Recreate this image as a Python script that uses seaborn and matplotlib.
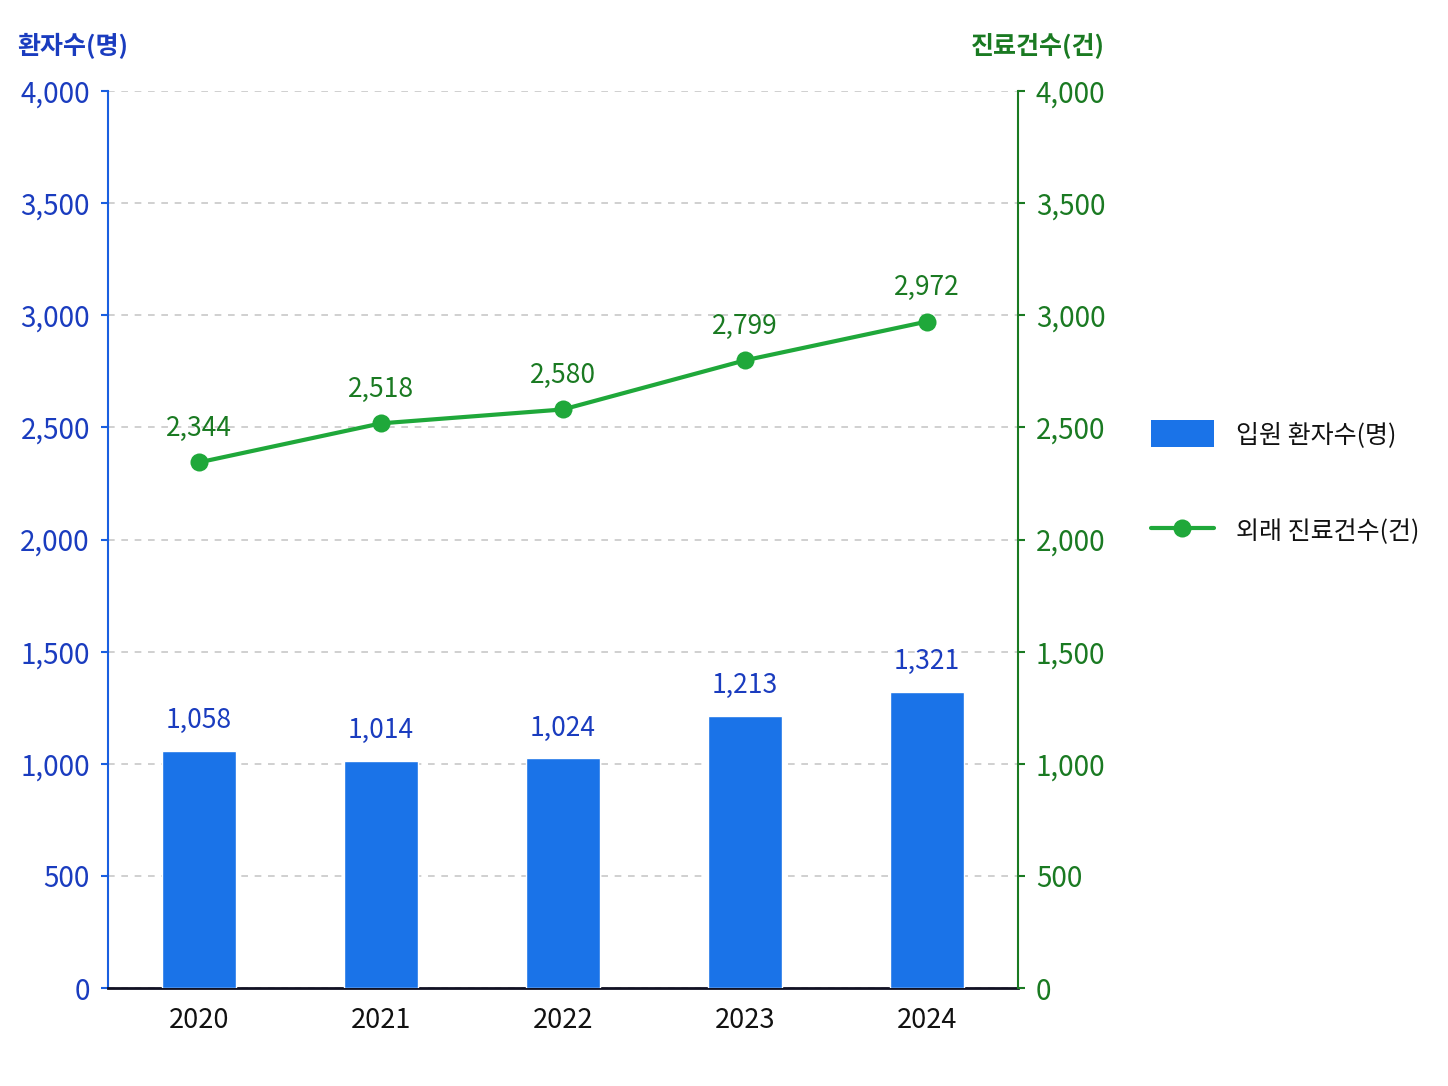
import numpy as np
import pandas as pd
import matplotlib.pyplot as plt
import seaborn as sns
from matplotlib.lines import Line2D
from matplotlib.patches import Patch
from matplotlib.ticker import FuncFormatter, MultipleLocator

years = ["2020", "2021", "2022", "2023", "2024"]
inpatients = [1058, 1014, 1024, 1213, 1321]
outpatient_visits = [2344, 2518, 2580, 2799, 2972]

bar_color = "#1a73e8"
line_color = "#1fa83a"
left_text = "#1a3cbf"
right_text = "#1a7a22"

sns.set_style("white")
plt.rcParams["font.family"] = ["Noto Sans CJK KR", "DejaVu Sans"]

df = pd.DataFrame({"year": years, "inpatients": inpatients, "visits": outpatient_visits})

fig = plt.figure(figsize=(14.48, 10.86), dpi=100)
ax = fig.add_axes([0.0746, 0.0902, 0.6284, 0.826])

sns.barplot(data=df, x="year", y="inpatients", color=bar_color, saturation=1,
            width=0.41, ax=ax, zorder=3)
ax.set_xlim(-0.5, 4.5)
ax.set_ylim(0, 4000)
ax.yaxis.set_major_locator(MultipleLocator(500))
fmt = FuncFormatter(lambda v, p: f"{int(v):,}")
ax.yaxis.set_major_formatter(fmt)
ax.grid(axis="y", color="#c8c8c8", linestyle=(0, (4, 4)), linewidth=1.2, zorder=0)
ax.set_axisbelow(True)
ax.set_xlabel("")
ax.set_ylabel("")

for i, v in enumerate(inpatients):
    ax.annotate(f"{v:,}", (i, v), xytext=(0, 12), textcoords="offset points",
                ha="center", va="bottom", fontsize=19, color=left_text,
                fontweight="medium")

ax2 = ax.twinx()
sns.lineplot(x=np.arange(len(years)), y=outpatient_visits, ax=ax2, color=line_color,
             linewidth=3, marker="o", markersize=13, markeredgewidth=0, zorder=4)
ax2.set_ylim(0, 4000)
ax2.yaxis.set_major_locator(MultipleLocator(500))
ax2.yaxis.set_major_formatter(fmt)
ax2.set_ylabel("")
ax2.grid(False)

for i, v in enumerate(outpatient_visits):
    ax2.annotate(f"{v:,}", (i, v), xytext=(0, 15), textcoords="offset points",
                 ha="center", va="bottom", fontsize=19, color=right_text,
                 fontweight="medium")

for a in (ax, ax2):
    a.spines["top"].set_visible(False)
ax.spines["left"].set_color("#1a5fe0")
ax.spines["left"].set_linewidth(1.5)
ax.spines["right"].set_visible(False)
ax2.spines["left"].set_visible(False)
ax2.spines["bottom"].set_visible(False)
ax2.spines["right"].set_color("#1a7a22")
ax2.spines["right"].set_linewidth(1.5)
ax.spines["bottom"].set_color("#111122")
ax.spines["bottom"].set_linewidth(2)

ax.tick_params(axis="y", colors="#1a5fe0", labelcolor=left_text, labelsize=20,
               length=5, width=1.5, left=True, pad=8)
ax.tick_params(axis="x", labelsize=19.5, labelcolor="#111111", length=0, pad=14)
ax2.tick_params(axis="y", colors="#1a7a22", labelcolor=right_text, labelsize=20,
                length=5, width=1.5, right=True, pad=8)
for lbl in ax.get_yticklabels() + ax2.get_yticklabels() + ax.get_xticklabels():
    lbl.set_fontweight("medium")

fig.text(0.012, 0.958, "환자수(명)", fontsize=18, fontweight="bold", color=left_text,
         ha="left", va="center")
fig.text(0.763, 0.958, "진료건수(건)", fontsize=18, fontweight="bold", color=right_text,
         ha="right", va="center")

handles = [
    Patch(facecolor=bar_color, edgecolor="none", label="입원 환자수(명)"),
    Line2D([0], [0], color=line_color, linewidth=3, marker="o", markersize=13,
           markeredgewidth=0, label="외래 진료건수(건)"),
]
leg = fig.legend(handles=handles, loc="upper left", bbox_to_anchor=(0.7795, 0.634),
                 frameon=False, fontsize=18, handlelength=2.5, handleheight=1.3,
                 labelspacing=2.75, handletextpad=0.9, labelcolor="#111111")
for t in leg.get_texts():
    t.set_fontweight("medium")

fig.savefig("out.png", dpi=100)
